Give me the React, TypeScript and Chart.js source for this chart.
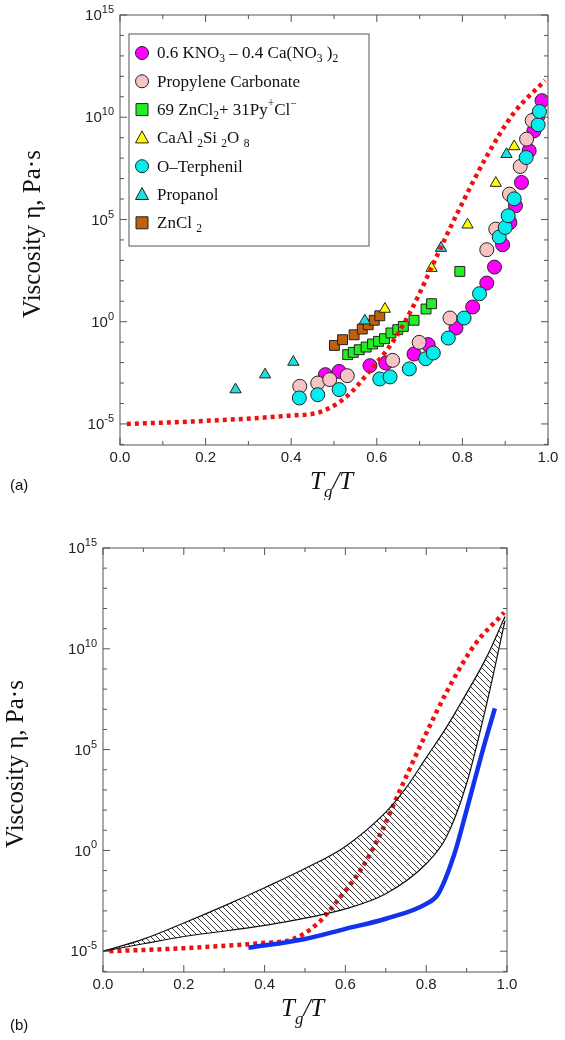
import { useEffect, useRef } from "react";
import { Chart, registerables } from "chart.js";

Chart.register(...registerables);

// values: x = Tg/T, y = log10(viscosity, Pa·s)
const vft = [
  [0.016, -5.0], [0.2, -4.85], [0.39, -4.6], [0.47, -4.4], [0.53, -3.65], [0.58, -2.5],
  [0.64, -0.9], [0.685, 0.75], [0.74, 3.2], [0.795, 5.6], [0.857, 8.1], [0.92, 10.2], [0.993, 11.8],
];
const kno3 = [
  [0.48, -2.59], [0.512, -2.43], [0.584, -2.15], [0.621, -2.02], [0.687, -1.58], [0.72, -1.12],
  [0.785, -0.31], [0.824, 0.72], [0.857, 1.89], [0.875, 2.67], [0.894, 3.76], [0.911, 4.85],
  [0.924, 5.67], [0.938, 6.81], [0.956, 8.36], [0.967, 9.33], [0.976, 10.03], [0.986, 10.81],
];
const propCarb = [
  [0.42, -3.16], [0.462, -3.0], [0.49, -2.83], [0.531, -2.64], [0.637, -1.89], [0.699, -1.01],
  [0.771, 0.18], [0.857, 3.52], [0.878, 4.53], [0.91, 6.24], [0.935, 7.59], [0.95, 8.93], [0.963, 9.84],
];
const znPy = [
  [0.532, -1.61], [0.545, -1.5], [0.559, -1.37], [0.575, -1.24], [0.59, -1.09], [0.604, -0.96],
  [0.618, -0.83], [0.633, -0.55], [0.649, -0.39], [0.662, -0.23], [0.687, 0.07], [0.715, 0.62],
  [0.728, 0.88], [0.794, 2.46],
];
const caAl = [[0.619, 0.62], [0.728, 2.62], [0.812, 4.74], [0.878, 6.78], [0.921, 8.57]];
const oTerph = [
  [0.419, -3.73], [0.462, -3.57], [0.512, -3.32], [0.607, -2.8], [0.631, -2.7], [0.676, -2.31],
  [0.714, -1.81], [0.732, -1.53], [0.767, -0.8], [0.804, 0.18], [0.84, 1.37], [0.886, 4.14],
  [0.9, 4.61], [0.907, 5.18], [0.921, 6.01], [0.949, 8.03], [0.977, 9.63], [0.98, 10.28],
];
const propanol = [[0.27, -3.32], [0.339, -2.59], [0.405, -1.97], [0.572, 0.05], [0.75, 3.6], [0.903, 8.19]];
const zncl2 = [[0.501, -1.16], [0.52, -0.88], [0.547, -0.64], [0.566, -0.36], [0.58, -0.15], [0.594, 0.07], [0.607, 0.29]];

const bandUpper = [
  [0, -5], [0.1, -4.4], [0.2, -3.6], [0.3, -2.75], [0.4, -1.85], [0.5, -0.9], [0.6, 0.2],
  [0.7, 1.9], [0.75, 3.1], [0.8, 4.6], [0.85, 6.1], [0.9, 7.8], [0.95, 9.6], [0.995, 11.6],
];
const bandLower = [
  [0, -5], [0.1, -4.63], [0.2, -4.27], [0.4, -3.72], [0.6, -2.9], [0.7, -2.15], [0.8, -0.66],
  [0.85, 0.67], [0.9, 3.32], [0.95, 7.3], [0.995, 11.4],
];
const blueLine = [
  [0.36, -4.83], [0.5, -4.39], [0.6, -3.89], [0.7, -3.39], [0.8, -2.65], [0.83, -2.15],
  [0.87, -0.16], [0.9, 2.0], [0.94, 4.97], [0.97, 7.05],
];

const xTicks = [0, 0.2, 0.4, 0.6, 0.8, 1.0];
const yTicks = [-5, 0, 5, 10, 15];

type Seg = { t: string; s?: "sub" | "sup" };
const legendItems: { label: Seg[]; color: string; shape: string }[] = [
  { label: [{ t: "0.6 KNO" }, { t: "3", s: "sub" }, { t: " \u2013 0.4 Ca(NO" }, { t: "3", s: "sub" }, { t: " )" }, { t: "2", s: "sub" }], color: "#ff00ff", shape: "circle" },
  { label: [{ t: "Propylene Carbonate" }], color: "#f7c3c3", shape: "circle" },
  { label: [{ t: "69 ZnCl" }, { t: "2", s: "sub" }, { t: "+ 31Py" }, { t: "+", s: "sup" }, { t: "Cl" }, { t: "\u2212", s: "sup" }], color: "#22ee22", shape: "rect" },
  { label: [{ t: "CaAl " }, { t: "2", s: "sub" }, { t: "Si " }, { t: "2", s: "sub" }, { t: "O " }, { t: "8", s: "sub" }], color: "#ffff00", shape: "triangle" },
  { label: [{ t: "O\u2013Terphenil" }], color: "#00eeee", shape: "circle" },
  { label: [{ t: "Propanol" }], color: "#22dddd", shape: "triangle" },
  { label: [{ t: "ZnCl " }, { t: "2", s: "sub" }], color: "#c0600a", shape: "rect" },
];

const pts = (a: number[][]) => a.map(([x, y]) => ({ x, y }));
const SERIF = "'Liberation Serif', 'DejaVu Serif', serif";
const SANS = "'Liberation Sans', Arial, sans-serif";

function drawSegs(ctx: CanvasRenderingContext2D, segs: Seg[], x: number, y: number, size: number, italic = false) {
  let cx = x;
  for (const s of segs) {
    const fs = s.s ? size * 0.68 : size;
    ctx.font = `${italic ? "italic " : ""}${fs}px ${SERIF}`;
    const dy = s.s === "sub" ? size * 0.3 : s.s === "sup" ? -size * 0.38 : 0;
    ctx.fillText(s.t, cx, y + dy);
    cx += ctx.measureText(s.t).width;
  }
}

function framePlugin(panel: string, withLegend: boolean) {
  return {
    id: "frame" + panel,
    afterDraw(chart: any) {
      const { ctx, chartArea: a, scales } = chart;
      const xs = scales.x, ys = scales.y;
      ctx.save();
      ctx.strokeStyle = "#555";
      ctx.lineWidth = 1;
      ctx.strokeRect(a.left, a.top, a.right - a.left, a.bottom - a.top);
      ctx.beginPath();
      for (let v = 0; v <= 1.0001; v += 0.1) {
        const px = xs.getPixelForValue(v);
        const len = Math.round(v * 10) % 2 === 0 ? 7 : 4;
        ctx.moveTo(px, a.bottom); ctx.lineTo(px, a.bottom - len);
        ctx.moveTo(px, a.top); ctx.lineTo(px, a.top + len);
      }
      for (let v = -6; v <= 15; v++) {
        const py = ys.getPixelForValue(v);
        const len = v % 5 === 0 ? 7 : 4;
        ctx.moveTo(a.left, py); ctx.lineTo(a.left + len, py);
        ctx.moveTo(a.right, py); ctx.lineTo(a.right - len, py);
      }
      ctx.stroke();
      ctx.fillStyle = "#222";
      ctx.font = `15px ${SANS}`;
      ctx.textAlign = "center";
      ctx.textBaseline = "middle";
      for (const v of xTicks) ctx.fillText(v.toFixed(1), xs.getPixelForValue(v), a.bottom + 13);
      ctx.textAlign = "right";
      for (const v of yTicks) {
        const py = ys.getPixelForValue(v);
        ctx.font = `11px ${SANS}`;
        const e = String(v);
        const ew = ctx.measureText(e).width;
        ctx.fillText(e, a.left - 6, py - 5);
        ctx.font = `15px ${SANS}`;
        ctx.fillText("10", a.left - 6 - ew, py + 1);
      }
      ctx.textAlign = "left";
      ctx.textBaseline = "alphabetic";
      ctx.fillStyle = "#111";
      const mid = (a.left + a.right) / 2 - 24;
      drawSegs(ctx, [{ t: "T" }, { t: "g", s: "sub" }, { t: "/T" }], mid, a.bottom + 44, 25, true);
      ctx.save();
      ctx.translate(a.left - 80, (a.top + a.bottom) / 2 + 4);
      ctx.rotate(-Math.PI / 2);
      ctx.textAlign = "center";
      ctx.font = `25px ${SERIF}`;
      ctx.fillText("Viscosity \u03B7, Pa\u00B7s", 0, 0);
      ctx.restore();
      ctx.font = `15px ${SANS}`;
      ctx.fillText(panel, 10, chart.height - 10);
      if (withLegend) {
        const lx = a.left + 9, ly = a.top + 19, lw = 240, lh = 212;
        ctx.fillStyle = "#fff";
        ctx.fillRect(lx, ly, lw, lh);
        ctx.strokeStyle = "#555";
        ctx.strokeRect(lx, ly, lw, lh);
        legendItems.forEach((it, i) => {
          const cy = ly + 19 + i * 28.3;
          const mx = lx + 13;
          ctx.fillStyle = it.color;
          ctx.strokeStyle = "#222";
          ctx.beginPath();
          if (it.shape === "circle") ctx.arc(mx, cy, 6.5, 0, Math.PI * 2);
          else if (it.shape === "rect") ctx.rect(mx - 6, cy - 6, 12, 12);
          else { ctx.moveTo(mx, cy - 7); ctx.lineTo(mx + 6.5, cy + 5); ctx.lineTo(mx - 6.5, cy + 5); ctx.closePath(); }
          ctx.fill(); ctx.stroke();
          ctx.fillStyle = "#111";
          ctx.textBaseline = "middle";
          drawSegs(ctx, it.label, lx + 28, cy + 1, 17);
        });
      }
      ctx.restore();
    },
  };
}

function hatch(): CanvasPattern | string {
  const c = document.createElement("canvas");
  c.width = 6; c.height = 6;
  const g = c.getContext("2d");
  if (!g) return "transparent";
  g.strokeStyle = "#222";
  g.lineWidth = 0.9;
  g.beginPath();
  g.moveTo(0, 0); g.lineTo(6, 6);
  g.moveTo(-3, 3); g.lineTo(3, 9);
  g.moveTo(3, -3); g.lineTo(9, 3);
  g.stroke();
  return g.createPattern(c, "repeat") ?? "transparent";
}

const scat = (data: number[][], color: string, style: string, r: number) => ({
  type: "scatter" as const,
  data: pts(data),
  backgroundColor: color,
  borderColor: "#222",
  borderWidth: 1,
  pointStyle: style,
  pointRadius: r,
});

const redLine = {
  type: "line" as const,
  data: pts(vft),
  borderColor: "#ee1111",
  borderWidth: 4.5,
  borderDash: [4, 4],
  pointRadius: 0,
  cubicInterpolationMode: "monotone" as const,
  fill: false,
};

const smooth = { pointRadius: 0, cubicInterpolationMode: "monotone" as const };

const scales = {
  x: { type: "linear" as const, min: 0, max: 1, display: false },
  y: { type: "linear" as const, min: -6.03, max: 15, display: false },
};

export default function App() {
  const ref1 = useRef<HTMLCanvasElement | null>(null);
  const ref2 = useRef<HTMLCanvasElement | null>(null);

  useEffect(() => {
    document.body.style.margin = "0";
    const c1 = new Chart(ref1.current!, {
      type: "scatter",
      data: {
        datasets: [
          redLine,
          scat(propanol, "#22dddd", "triangle", 6.5),
          scat(caAl, "#ffff00", "triangle", 6.5),
          scat(oTerph, "#00eeee", "circle", 7),
          scat(propCarb, "#f7c3c3", "circle", 7),
          scat(kno3, "#ff00ff", "circle", 7),
          scat(znPy, "#22ee22", "rect", 7),
          scat(zncl2, "#c0600a", "rect", 7),
        ] as any,
      },
      options: {
        animation: false,
        responsive: false,
        layout: { padding: { left: 120, right: 17, top: 15, bottom: 55 } },
        plugins: { legend: { display: false }, tooltip: { enabled: false } },
        scales,
      },
      plugins: [framePlugin("(a)", true)],
    });
    const c2 = new Chart(ref2.current!, {
      type: "line",
      data: {
        datasets: [
          { data: pts(bandUpper), borderColor: "#111", borderWidth: 1.2, ...smooth, fill: false },
          { data: pts(bandLower), borderColor: "#111", borderWidth: 1.2, ...smooth, fill: "-1", backgroundColor: hatch() },
          { data: pts(blueLine), borderColor: "#1133ee", borderWidth: 4.5, ...smooth, fill: false },
          redLine,
        ] as any,
      },
      options: {
        animation: false,
        responsive: false,
        layout: { padding: { left: 103, right: 58, top: 38, bottom: 68 } },
        plugins: { legend: { display: false }, tooltip: { enabled: false }, filler: { propagate: false } },
        scales,
      },
      plugins: [framePlugin("(b)", false)],
    });
    return () => {
      c1.destroy();
      c2.destroy();
    };
  }, []);

  return (
    <div style={{ position: "relative", width: 565, height: 1040, background: "#fff" }}>
      <canvas ref={ref1} width={565} height={500} style={{ position: "absolute", left: 0, top: 0 }} />
      <canvas ref={ref2} width={565} height={530} style={{ position: "absolute", left: 0, top: 510 }} />
    </div>
  );
}
